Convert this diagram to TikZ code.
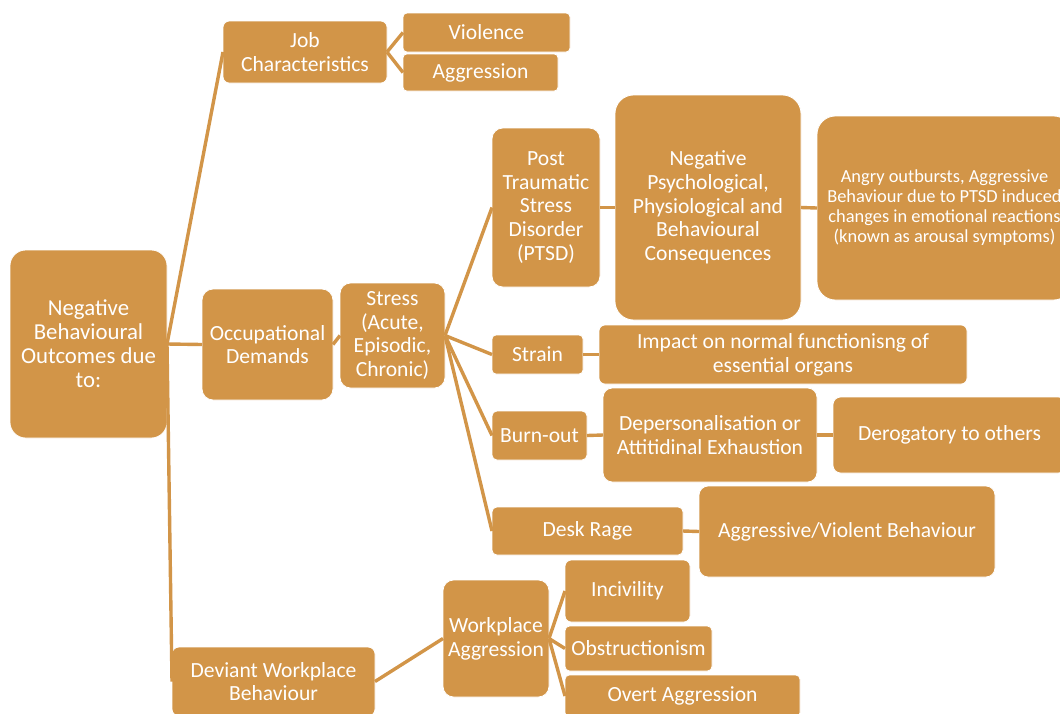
\documentclass[tikz,border=0pt]{standalone}
\usepackage{fontspec}
\setmainfont{Carlito}
\definecolor{boxorange}{RGB}{210,149,72}
\tikzset{
  box/.style={fill=boxorange, draw=white, line width=0.8pt, text=white,
    align=center, inner sep=0pt, outer sep=0pt,
    font=\fontsize{21.6}{23.7}\selectfont},
  roottext/.style={font=\fontsize{22.8}{24}\selectfont},
  smalltext/.style={font=\fontsize{18.4}{20}\selectfont},
  link/.style={draw=boxorange, line width=3.4pt}
}
% \bx{name}{left}{top}{right}{bottom}{options}{text}
\newcommand\bx[7]{%
  \pgfmathsetmacro\bw{#4-#2}%
  \pgfmathsetmacro\bh{#5-#3}%
  \pgfmathsetmacro\br{0.1*min(\bw,\bh)}%
  \node[box, minimum width=\bw pt, minimum height=\bh pt,
        rounded corners=\br pt, #6] (#1) at ({(#2+#4)/2},{(#3+#5)/2}) {#7};}
\begin{document}
\begin{tikzpicture}[x=1pt, y=-1pt]
\useasboundingbox (0,0) rectangle (1060,713);
\clip (0,0) rectangle (1060,713);
\fill[white] (0,0) rectangle (1060,713);

\bx{root}{10}{250}{167}{438}{roottext}{Negative\\Behavioural\\Outcomes due\\to:}
\bx{job}{223}{21}{387}{83}{}{Job\\Characteristics}
\bx{viol}{403}{13}{570}{52}{}{Violence}
\bx{aggr}{403}{54}{558}{91}{}{Aggression}
\bx{occ}{202}{289}{333}{400}{}{Occupational\\Demands}
\bx{stress}{340}{283}{445}{388}{}{Stress\\(Acute,\\Episodic,\\Chronic)}
\bx{ptsd}{492}{128}{600}{287}{}{Post\\Traumatic\\Stress\\Disorder\\(PTSD)}
\bx{negpsy}{615}{95}{801}{320}{}{Negative\\Psychological,\\Physiological and\\Behavioural\\Consequences}
\bx{angry}{817}{116}{1072}{300}{smalltext}{Angry outbursts, Aggressive\\Behaviour due to PTSD induced\\changes in emotional reactions\\(known as arousal symptoms)}
\bx{strain}{492}{335}{583}{374}{}{Strain}
\bx{impact}{599}{325}{967}{384}{}{Impact on normal functionisng of\\essential organs}
\bx{burn}{492}{411}{587}{460}{}{Burn-out}
\bx{deper}{603}{388}{817}{482}{}{Depersonalisation or\\Attitidinal Exhaustion}
\bx{derog}{833}{397}{1066}{473}{}{Derogatory to others}
\bx{desk}{492}{507}{683}{555}{}{Desk Rage}
\bx{aggviol}{699}{486}{995}{577}{}{Aggressive/Violent Behaviour}
\bx{deviant}{172}{647}{375}{716}{}{Deviant Workplace\\Behaviour}
\bx{wpa}{443}{580}{549}{697}{}{Workplace\\Aggression}
\bx{incivility}{565}{560}{690}{622}{}{Incivility}
\bx{obstr}{565}{626}{712}{671}{}{Obstructionism}
\bx{overt}{565}{675}{800}{717}{}{Overt Aggression}

% connectors, parent east side to child west side
\path[link] (root.east) -- (job.west);
\path[link] (root.east) -- (occ.west);
\path[link] (root.east) -- (deviant.west);
\path[link] (job.east) -- (viol.west);
\path[link] (job.east) -- (aggr.west);
\path[link] (occ.east) -- (stress.west);
\path[link] (stress.east) -- (ptsd.west);
\path[link] (stress.east) -- (strain.west);
\path[link] (stress.east) -- (burn.west);
\path[link] (stress.east) -- (desk.west);
\path[link] (ptsd.east) -- (negpsy.west);
\path[link] (negpsy.east) -- (angry.west);
\path[link] (strain.east) -- (impact.west);
\path[link] (burn.east) -- (deper.west);
\path[link] (deper.east) -- (derog.west);
\path[link] (desk.east) -- (aggviol.west);
\path[link] (deviant.east) -- (wpa.west);
\path[link] (wpa.east) -- (incivility.west);
\path[link] (wpa.east) -- (obstr.west);
\path[link] (wpa.east) -- (overt.west);
\end{tikzpicture}
\end{document}
